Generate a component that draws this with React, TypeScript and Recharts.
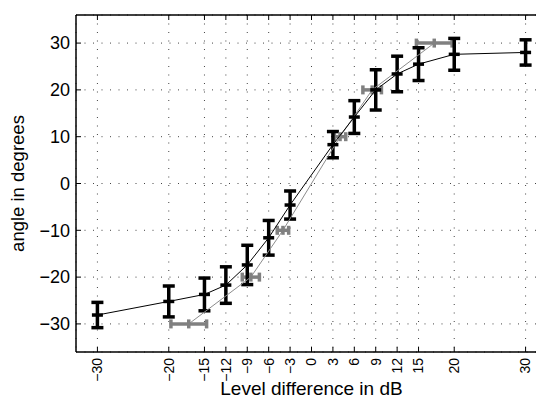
import React from 'react';
import {
  ScatterChart,
  Scatter,
  XAxis,
  YAxis,
  CartesianGrid,
  ErrorBar,
  Label,
} from 'recharts';

// listener responses: mean angle and spread per level difference
const levelDiffs = [-30, -20, -15, -12, -9, -6, -3, 3, 6, 9, 12, 15, 20, 30];
const meanAngles = [-28.1, -25.2, -23.7, -21.7, -17.4, -11.6, -4.6, 8.3, 14.2, 20.0, 23.4, 25.5, 27.6, 28.0];
const angleSpread = [2.7, 3.3, 3.5, 3.9, 4.2, 3.7, 3.0, 2.8, 3.5, 4.3, 3.8, 3.5, 3.4, 2.7];

// reference: level needed for a given angle, with its range
const refAngles = [-30, -20, -10, 10, 20, 30];
const refLevels = [-17.2, -8.5, -4.0, 4.0, 8.5, 17.2];
const refSpread = [2.5, 1.2, 0.8, 0.8, 1.3, 2.5];

const xTicks = [-30, -20, -15, -12, -9, -6, -3, 0, 3, 6, 9, 12, 15, 20, 30];
const yTicks = [-30, -20, -10, 0, 10, 20, 30];

const measured = levelDiffs.map((x, i) => ({ x, y: meanAngles[i], err: angleSpread[i] }));
const reference = refAngles.map((y, i) => ({ x: refLevels[i], y, err: refSpread[i] }));

const FONT = '"Liberation Sans", Arial, Helvetica, sans-serif';
const fmt = (v: number) => (v < 0 ? '\u2212' + Math.abs(v) : String(v));

const BottomTick = (props: any) => {
  const { x, y, payload } = props;
  return (
    <g>
      <line x1={x} y1={y} x2={x} y2={y - 5} stroke="#000" />
      <text
        x={x}
        y={y + 6}
        transform={`rotate(-90 ${x} ${y + 6})`}
        textAnchor="end"
        dy="0.35em"
        fontSize={14}
        fontFamily={FONT}
        fill="#000"
      >
        {fmt(payload.value)}
      </text>
    </g>
  );
};

const TopTick = (props: any) => {
  const { x, y } = props;
  return <line x1={x} y1={y} x2={x} y2={y + 5} stroke="#000" />;
};

const LeftTick = (props: any) => {
  const { x, y, payload } = props;
  return (
    <g>
      <line x1={x} y1={y} x2={x + 5} y2={y} stroke="#000" />
      <text x={x - 6} y={y} dy="0.35em" textAnchor="end" fontSize={18} fontFamily={FONT} fill="#000">
        {fmt(payload.value)}
      </text>
    </g>
  );
};

const BlackMark = (props: any) => {
  const { cx, cy } = props;
  return <line x1={cx - 5.5} y1={cy} x2={cx + 5.5} y2={cy} stroke="#000" strokeWidth={3.5} />;
};

const GrayMark = (props: any) => {
  const { cx, cy } = props;
  return <line x1={cx} y1={cy - 4.5} x2={cx} y2={cy + 4.5} stroke="#808080" strokeWidth={3.5} />;
};

export default function App() {
  return (
    <div style={{ position: 'absolute', left: 0, top: 0, width: 536, height: 397, overflow: 'hidden', background: '#fff' }}>
      <ScatterChart width={547} height={397} margin={{ top: 0, right: 0, bottom: 0, left: 0 }}>
        <CartesianGrid stroke="#444" strokeDasharray="1 7.5" />
        <XAxis
          type="number"
          dataKey="x"
          domain={[-33, 33]}
          ticks={xTicks}
          allowDataOverflow
          height={45}
          tickSize={0}
          tickMargin={0}
          interval={0}
          axisLine={{ stroke: '#000', strokeWidth: 1.5 }}
          tickLine={false}
          tick={<BottomTick />}
        >
          <Label
            content={(p: any) => {
              const vb = p.viewBox || { x: 76, y: 352, width: 471, height: 45 };
              return (
                <text x={vb.x + vb.width / 2} y={vb.y + 42.5} textAnchor="middle" fontSize={19} fontFamily={FONT} fill="#000">
                  Level difference in dB
                </text>
              );
            }}
          />
        </XAxis>
        <XAxis
          xAxisId="top"
          orientation="top"
          type="number"
          dataKey="x"
          domain={[-33, 33]}
          ticks={xTicks}
          allowDataOverflow
          height={15}
          tickSize={0}
          tickMargin={0}
          interval={0}
          axisLine={{ stroke: '#000', strokeWidth: 1.5 }}
          tickLine={false}
          tick={<TopTick />}
        />
        <YAxis
          type="number"
          dataKey="y"
          domain={[-36, 36]}
          ticks={yTicks}
          allowDataOverflow
          width={76}
          tickSize={0}
          tickMargin={0}
          interval={0}
          axisLine={{ stroke: '#000', strokeWidth: 1.5 }}
          tickLine={false}
          tick={<LeftTick />}
        >
          <Label
            content={(p: any) => {
              const vb = p.viewBox || { x: 0, y: 15, width: 76, height: 337 };
              const cx = vb.x + 18;
              const cy = vb.y + vb.height / 2;
              return (
                <text
                  x={cx}
                  y={cy}
                  transform={`rotate(-90 ${cx} ${cy})`}
                  textAnchor="middle"
                  dy="0.35em"
                  fontSize={18.5}
                  fontFamily={FONT}
                  fill="#000"
                >
                  angle in degrees
                </text>
              );
            }}
          />
        </YAxis>
        <Scatter
          data={reference}
          isAnimationActive={false}
          line={{ stroke: '#8c8c8c', strokeWidth: 1 }}
          lineType="joint"
          shape={<GrayMark />}
        >
          <ErrorBar dataKey="err" direction="x" stroke="#808080" strokeWidth={3.5} width={4.5} />
        </Scatter>
        <Scatter
          data={measured}
          isAnimationActive={false}
          line={{ stroke: '#000', strokeWidth: 1 }}
          lineType="joint"
          shape={<BlackMark />}
        >
          <ErrorBar dataKey="err" direction="y" stroke="#000" strokeWidth={3.5} width={6} />
        </Scatter>
      </ScatterChart>
    </div>
  );
}
